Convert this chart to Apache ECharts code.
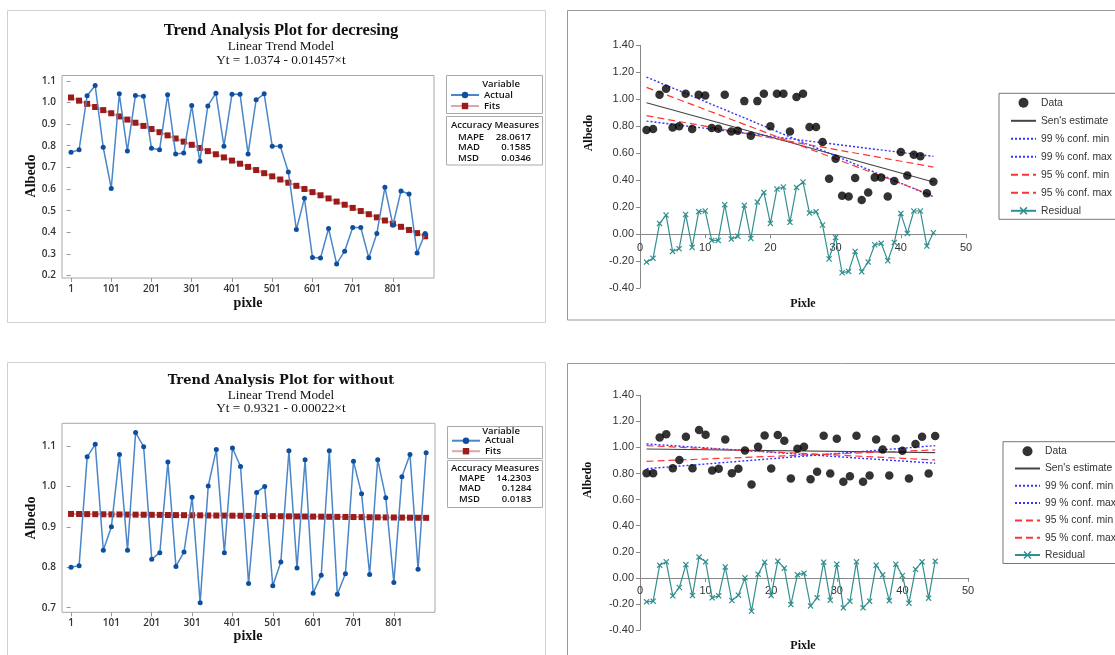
<!DOCTYPE html>
<html><head><meta charset="utf-8">
<script src="https://cdn.jsdelivr.net/npm/echarts@6/dist/echarts.min.js"></script>
<style>html,body{margin:0;padding:0;background:#fff}#c{width:1115px;height:655px}</style>
</head><body><div id="c"></div>
<script>
// ---------- data ----------
const pixle = [1,21,41,61,81,101,121,141,161,181,201,221,241,261,281,301,321,341,361,381,401,421,441,461,481,501,521,541,561,581,601,621,641,661,681,701,721,741,761,781,801,821,841,861,881];
const idx = [1,2,3,4,5,6,7,8,9,10,11,12,13,14,15,16,17,18,19,20,21,22,23,24,25,26,27,28,29,30,31,32,33,34,35,36,37,38,39,40,41,42,43,44,45];
const pixTicks = [1,101,201,301,401,501,601,701,801];
const decYTicks = [0.2,0.3,0.4,0.5,0.6,0.7,0.8,0.9,1.0,1.1];
const woYTicks = [0.7,0.8,0.9,1.0,1.1];

const decActual = [0.770,0.781,1.031,1.078,0.793,0.603,1.040,0.776,1.032,1.029,0.788,0.781,1.035,0.762,0.767,0.986,0.728,0.984,1.043,0.798,1.038,1.038,0.762,1.012,1.040,0.798,0.798,0.679,0.413,0.557,0.284,0.281,0.418,0.254,0.313,0.422,0.422,0.282,0.395,0.608,0.433,0.591,0.577,0.304,0.395];
const decFits = [1.0228,1.0083,0.9937,0.9791,0.9646,0.9500,0.9354,0.9208,0.9063,0.8917,0.8771,0.8626,0.8480,0.8334,0.8189,0.8043,0.7897,0.7751,0.7606,0.7460,0.7314,0.7169,0.7023,0.6877,0.6732,0.6586,0.6440,0.6294,0.6149,0.6003,0.5857,0.5712,0.5566,0.5420,0.5275,0.5129,0.4983,0.4837,0.4692,0.4546,0.4400,0.4255,0.4109,0.3963,0.3818];
const decData = [0.771,0.779,1.033,1.078,0.791,0.799,1.041,0.779,1.033,1.028,0.786,0.781,1.033,0.761,0.766,0.986,0.729,0.986,1.041,0.799,1.041,1.041,0.761,1.016,1.041,0.794,0.794,0.682,0.410,0.559,0.284,0.279,0.415,0.252,0.309,0.420,0.420,0.279,0.393,0.608,0.435,0.588,0.578,0.302,0.388];
const decResid = [-0.208,-0.180,0.079,0.141,-0.129,-0.109,0.146,-0.099,0.166,0.171,-0.047,-0.047,0.218,-0.037,-0.017,0.213,-0.032,0.237,0.309,0.079,0.334,0.349,0.087,0.346,0.386,0.156,0.166,0.067,-0.185,-0.025,-0.287,-0.277,-0.129,-0.279,-0.208,-0.079,-0.069,-0.198,-0.062,0.153,0.005,0.171,0.171,-0.089,0.010];

const woActual = [0.800,0.804,1.073,1.104,0.842,0.900,1.079,0.842,1.133,1.098,0.820,0.836,1.060,0.802,0.838,0.973,0.712,1.001,1.091,0.836,1.095,1.049,0.760,0.985,1.000,0.754,0.813,1.088,0.798,1.066,0.736,0.780,1.088,0.733,0.784,1.062,0.982,0.782,1.066,0.972,0.762,1.024,1.079,0.795,1.083];
const woFits = [0.9319,0.9317,0.9314,0.9312,0.9310,0.9308,0.9306,0.9303,0.9301,0.9299,0.9297,0.9295,0.9292,0.9290,0.9288,0.9286,0.9284,0.9281,0.9279,0.9277,0.9275,0.9273,0.9270,0.9268,0.9266,0.9264,0.9262,0.9259,0.9257,0.9255,0.9253,0.9251,0.9248,0.9246,0.9244,0.9242,0.9240,0.9237,0.9235,0.9233,0.9231,0.9229,0.9226,0.9224,0.9222];
const woData = [0.803,0.803,1.077,1.102,0.841,0.903,1.082,0.841,1.133,1.097,0.824,0.836,1.061,0.803,0.836,0.977,0.716,1.005,1.092,0.839,1.095,1.051,0.762,0.990,1.005,0.757,0.813,1.090,0.801,1.066,0.737,0.780,1.090,0.737,0.785,1.061,0.985,0.785,1.066,0.974,0.762,1.026,1.082,0.801,1.087];
const woResid = [-0.184,-0.179,0.097,0.123,-0.138,-0.074,0.102,-0.136,0.159,0.123,-0.153,-0.138,0.084,-0.174,-0.133,0.000,-0.256,0.028,0.120,-0.136,0.128,0.074,-0.205,0.023,0.036,-0.215,-0.153,0.120,-0.171,0.105,-0.230,-0.179,0.123,-0.230,-0.179,0.097,0.023,-0.176,0.105,0.018,-0.194,0.066,0.123,-0.156,0.128];

const lineEnds = [1,45];
const decSen = [0.974,0.386];
const dec99min = [1.164,0.277];
const dec99max = [0.838,0.576];
const dec95min = [1.088,0.284];
const dec95max = [0.878,0.497];
const woSen = [0.988,0.960];
const wo99min = [1.027,0.879];
const wo99max = [0.837,1.014];
const wo95min = [1.014,0.904];
const wo95max = [0.894,0.981];

const accLabels = ['MAPE','MAD','MSD'];
const decAcc = ['28.0617','0.1585','0.0346'];
const woAcc = ['14.2303','0.1284','0.0183'];
const rightNames = ['Data',"Sen's estimate",'99 % conf. min','99 % conf. max','95 % conf. min','95 % conf. max','Residual'];

// ---------- styles ----------
const SERIF = '"Liberation Serif", "Times New Roman", serif';
const SANS = '"Open Sans", "DejaVu Sans", sans-serif';
const ARIAL = '"Liberation Sans", Arial, sans-serif';
const CROSS = 'path://M0,1.4L1.4,0L5,3.6L8.6,0L10,1.4L6.4,5L10,8.6L8.6,10L5,6.4L1.4,10L0,8.6L3.6,5Z';
const TEAL = '#338f8f';

function pairs(xs, ys){ return xs.map((x,i)=>[x, ys[i]]); }

function leftX(gi){
  return {gridIndex:gi, type:'value', min:-21.4, max:903,
    axisLine:{show:false}, splitLine:{show:false},
    axisTick:{show:true, customValues:pixTicks, length:4, lineStyle:{color:'#999'}},
    axisLabel:{customValues:pixTicks, fontFamily:SANS, fontSize:10, fontWeight:600, color:'#333', margin:6}};
}
function leftY(gi, min, max, ticks){
  return {gridIndex:gi, type:'value', min:min, max:max,
    axisLine:{show:false}, splitLine:{show:false},
    axisTick:{show:true, customValues:ticks, length:4, lineStyle:{color:'#999'}},
    axisLabel:{customValues:ticks, fontFamily:SANS, fontSize:10, fontWeight:600, color:'#333', margin:6,
      formatter:v=>Number(v).toFixed(1)}};
}
function rightX(gi, off){
  return {gridIndex:gi, type:'value', min:0, max:50, interval:10, offset:off,
    axisLine:{show:true, onZero:false, lineStyle:{color:'#888'}}, splitLine:{show:false},
    axisTick:{show:true, length:4, lineStyle:{color:'#888'}},
    axisLabel:{fontFamily:ARIAL, fontSize:11, color:'#333', margin:8}};
}
function rightY(gi){
  return {gridIndex:gi, type:'value', min:-0.4, max:1.4, interval:0.2,
    axisLine:{show:true, lineStyle:{color:'#888'}}, splitLine:{show:false},
    axisTick:{show:true, length:4, lineStyle:{color:'#888'}},
    axisLabel:{fontFamily:ARIAL, fontSize:11, color:'#333', margin:6,
      formatter:v=>Number(v).toFixed(2)}};
}
function leftSeries(ai, actual, fits){
  return [
    {type:'line', name:'Actual', xAxisIndex:ai, yAxisIndex:ai, data:pairs(pixle, actual),
      symbol:'circle', symbolSize:5, itemStyle:{color:'#0d4f9e'},
      lineStyle:{color:'#4a86c8', width:1.5}, animation:false, z:3},
    {type:'line', name:'Fits', xAxisIndex:ai, yAxisIndex:ai, data:pairs(pixle, fits),
      symbol:'rect', symbolSize:6, itemStyle:{color:'#9b1a1a'},
      lineStyle:{color:'#e0a6a6', width:2}, animation:false, z:2}
  ];
}
function rightSeries(ai, data, resid, sen, m99, x99, m95, x95){
  const ln = (name, ys, ls) => ({type:'line', name:name, xAxisIndex:ai, yAxisIndex:ai,
    data:pairs(lineEnds, ys), symbol:'none', lineStyle:ls, itemStyle:{color:ls.color, opacity:0}, animation:false, z:2});
  return [
    {type:'scatter', name:'Data', xAxisIndex:ai, yAxisIndex:ai, data:pairs(idx, data),
      symbol:'circle', symbolSize:8.5, itemStyle:{color:'#000'}, animation:false, z:4},
    ln("Sen's estimate", sen, {color:'#444', width:1.2}),
    ln('99 % conf. min', m99, {color:'#3333ff', width:1.4, type:[2,2]}),
    ln('99 % conf. max', x99, {color:'#3333ff', width:1.4, type:[2,2]}),
    ln('95 % conf. min', m95, {color:'#ff3333', width:1.2, type:[7,4]}),
    ln('95 % conf. max', x95, {color:'#ff3333', width:1.2, type:[7,4]}),
    {type:'line', name:'Residual', xAxisIndex:ai, yAxisIndex:ai, data:pairs(idx, resid),
      symbol:CROSS, symbolSize:6, itemStyle:{color:TEAL}, lineStyle:{color:TEAL, width:1.2}, animation:false, z:3}
  ];
}
function txt(x, y, text, font, opts){
  return Object.assign({type:'text', x:x, y:y, silent:true,
    style:{text:text, font:font, fill:'#111', textAlign:'center', textVerticalAlign:'middle'}}, opts||{});
}
function box(x, y, w, h, stroke){
  return {type:'rect', silent:true, shape:{x:x, y:y, width:w, height:h},
    style:{fill:'none', stroke:stroke, lineWidth:1}};
}
function accTexts(x0, x1, ys, vals, headY){
  const f = '600 9.5px ' + SANS;
  const out = [txt(495, headY, 'Accuracy Measures', f)];
  accLabels.forEach((l,i)=>{
    out.push({type:'text', x:x0, y:ys[i], silent:true, style:{text:l, font:f, fill:'#111', textAlign:'left', textVerticalAlign:'middle'}});
    out.push({type:'text', x:x1, y:ys[i], silent:true, style:{text:vals[i], font:f, fill:'#111', textAlign:'right', textVerticalAlign:'middle'}});
  });
  return out;
}
function rightLegend(left, top, gap){
  return {data:rightNames.map((n,i)=> i===0 || i===6 ? {name:n} : {name:n, itemStyle:{opacity:0}}),
    left:left, top:top, orient:'vertical', selectedMode:false,
    itemWidth:25, itemHeight:10, itemGap:gap, padding:[4,25,3,11],
    borderColor:'#777', borderWidth:1, backgroundColor:'#fff',
    textStyle:{fontFamily:ARIAL, fontSize:10.3, color:'#333', lineHeight:11}};
}
function leftLegend(left, top, gap){
  return {data:['Actual','Fits'], left:left, top:top, orient:'vertical', selectedMode:false,
    itemWidth:28, itemHeight:8, itemGap:gap, padding:0,
    textStyle:{fontFamily:SANS, fontSize:9.5, fontWeight:600, color:'#111', lineHeight:10}};
}

const chart = echarts.init(document.getElementById('c'), null, {renderer:'canvas'});
chart.setOption({
  backgroundColor:'#fff',
  animation:false,
  grid:[
    {left:62, top:75.5, width:372, height:202.5, show:true, borderColor:'#a8a8a8', borderWidth:1, backgroundColor:'#fff'},
    {left:62, top:423.3, width:373, height:189, show:true, borderColor:'#a8a8a8', borderWidth:1, backgroundColor:'#fff'},
    {left:640, top:45.3, width:326, height:242.7},
    {left:640, top:395.3, width:328, height:234.7}
  ],
  xAxis:[leftX(0), leftX(1), rightX(2, -53.9), rightX(3, -52.2)],
  yAxis:[leftY(0, 0.189, 1.1245, decYTicks), leftY(1, 0.6886, 1.156, woYTicks), rightY(2), rightY(3)],
  legend:[leftLegend(450, 90, 1), leftLegend(451, 435.7, 0.5), rightLegend(999, 93.3, 7), rightLegend(1003, 441.7, 6.3)],
  series:[].concat(
    leftSeries(0, decActual, decFits),
    leftSeries(1, woActual, woFits),
    rightSeries(2, decData, decResid, decSen, dec99min, dec99max, dec95min, dec95max),
    rightSeries(3, woData, woResid, woSen, wo99min, wo99max, wo95min, wo95max)
  ),
  graphic:{elements:[].concat([
    box(7.5, 10.5, 538, 312, '#cfcfcf'),
    box(7.5, 362.5, 538, 300, '#cfcfcf'),
    box(567.5, 10.5, 560, 309.5, '#999'),
    box(567.5, 363.5, 560, 300, '#999'),
    box(446.5, 75.5, 96, 38, '#aaa'),
    box(446.5, 116.5, 96, 48.5, '#aaa'),
    box(447.5, 426.5, 95, 32, '#aaa'),
    box(447.5, 460.5, 95, 47, '#aaa'),
    txt(281, 31, 'Trend Analysis Plot for decresing', 'bold 16.5px ' + SERIF),
    txt(281, 46.5, 'Linear Trend Model', '13.2px ' + SERIF),
    txt(281, 61, 'Yt = 1.0374 - 0.01457\u00d7t', '13.3px ' + SERIF),
    txt(281, 381, 'Trend Analysis Plot for without', 'bold 13px "DejaVu Serif", serif'),
    txt(281, 395.5, 'Linear Trend Model', '13.2px ' + SERIF),
    txt(281, 409, 'Yt = 0.9321 - 0.00022\u00d7t', '13.3px ' + SERIF),
    txt(31, 176, 'Albedo', 'bold 14px ' + SERIF, {rotation:Math.PI/2}),
    txt(31, 518, 'Albedo', 'bold 14px ' + SERIF, {rotation:Math.PI/2}),
    txt(248, 303, 'pixle', 'bold 14px ' + SERIF),
    txt(248, 636, 'pixle', 'bold 14px ' + SERIF),
    txt(589, 133, 'Albedo', 'bold 12px ' + SERIF, {rotation:Math.PI/2}),
    txt(588, 480, 'Albedo', 'bold 12px ' + SERIF, {rotation:Math.PI/2}),
    txt(803, 304, 'Pixle', 'bold 12px ' + SERIF),
    txt(803, 646, 'Pixle', 'bold 12px ' + SERIF),
    txt(501, 84, 'Variable', '600 9.5px ' + SANS),
    txt(501, 431, 'Variable', '600 9.5px ' + SANS)
  ],
  accTexts(458, 531, [137, 147.5, 158.5], decAcc, 125),
  accTexts(459, 531.5, [478, 488.5, 499], woAcc, 468)
  )}
});
</script></body></html>
